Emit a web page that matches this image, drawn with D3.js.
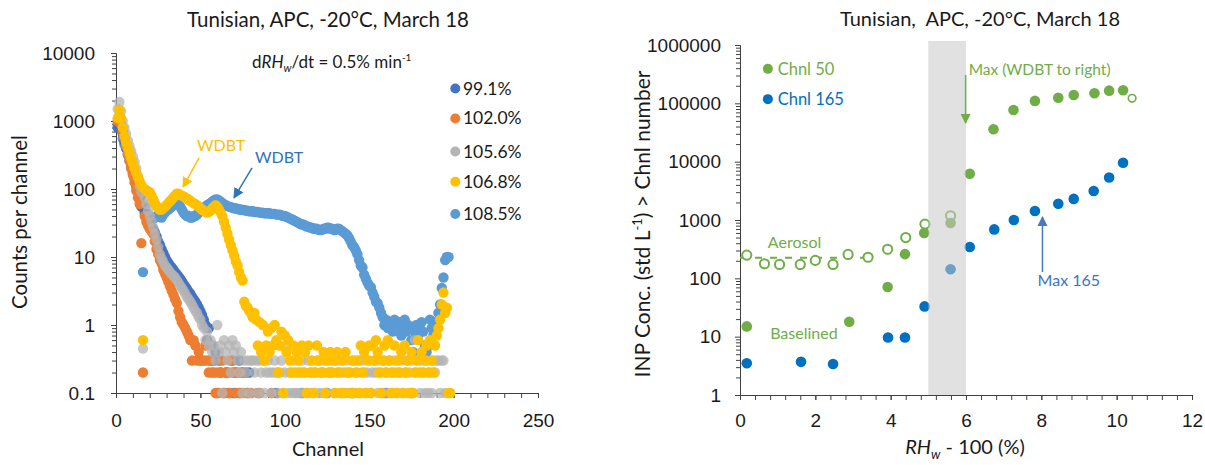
<!DOCTYPE html>
<html>
<head>
<meta charset="utf-8">
<script src="https://cdn.jsdelivr.net/npm/d3@7"></script>
<style>
  body { margin: 0; background: #fff; }
  svg { font-family: Lato, "Open Sans", sans-serif; }
</style>
</head>
<body>
<svg id="chart" width="1205" height="465"></svg>
<script>
// ---------- left panel: counts per channel (index 0 = channel 1) ----------
const s991 = [
  800, 1000, 850, 650, 500, 400, 320, 260, 210, 170,
  140, 110, 90, 70, 55, null, 45, 40, 36, 32,
  29, 26, 23, 20, 17, 15, 13, 11.5, 10, 9,
  8.2, 7.5, 7, 6.5, 6, 5.6, 5.2, 4.8, 4.4, 4.0,
  3.7, 3.4, 3.1, 2.9, 2.6, 2.4, 2.2, 2.0, 1.8, 1.6,
  1.4, 1.2, 1.0, 0.6, 0.9, 0.3, 0.5, 0.3, 0.4, 0.1,
  0.3, 0.2, null, 0.1, 0.2, 0.2, 0.1, null, 0.3, 0.1,
  0.2, null, 0.3, 0.1, 0.2, null, 0.2, 0.1, 0.2, null,
  null, null, null, 0.1, null, null, null, null, null, null,
  null, null, null, null, 0.1, null, null, null, null, null,
  null, null, null, null, null, null, null, null, null, 0.1,
  null, null, null, null, null, null, null, null, null, null,
  null, null, null, null, 0.1, null, null, null, null, null,
  null, null, null, null, null, null, null, null, null, 0.1,
  null, null, null, null, null, null, null, null, null, null,
  null, null, null, null, null, null, null, null, null, 0.1,
  null, null, null, null, null, null, null, null, null, null,
  null, null, null, null, 0.1, null, null, null, null, null,
  null, null, null, null, null, null, null, null, null, null,
  null, null, null, null, null, null, null, null, null, null
];
const s1020 = [
  1000, 1200, 900, 700, 550, 430, 330, 260, 200, 160,
  125, 95, 75, 60, 16, 0.2, 40, 33, 29, 26,
  24, 22, 17, 13, 11, 9, 8, 6.5, 5.7, 5,
  4.3, 3.7, 3.2, 2.8, 2.4, 2.1, 1.6, 1.3, 1.1, 1.0,
  0.9, 0.8, 0.7, 0.6, 0.3, 0.6, 0.5, 0.3, 0.4, 0.3,
  0.3, 0.3, 0.5, 0.3, 0.2, 0.3, 0.2, 0.2, 0.1, 0.2,
  0.1, 0.2, 0.3, 0.1, 0.2, 0.2, 0.1, 0.3, 0.2, 0.2,
  0.1, 0.2, 0.1, 0.2, null, 0.1, null, 0.1, null, 0.1,
  null, null, null, null, 0.1, null, null, null, null, null,
  null, 0.1, null, null, null, null, null, null, null, null,
  null, null, null, null, null, null, null, null, null, null,
  null, null, null, null, null, null, null, null, null, null,
  null, null, null, null, null, null, null, null, null, null,
  null, null, null, null, null, null, null, null, null, null,
  null, null, null, null, null, null, null, null, null, null,
  null, null, null, null, null, null, null, null, null, null,
  null, null, null, null, null, null, null, null, null, null,
  null, null, null, null, null, null, null, null, null, null,
  null, null, null, null, null, null, null, null, null, null,
  null, null, null, null, null, null, null, null, null, null
];
const s1056 = [
  1500, 1900, 1400, 1000, 800, 650, 520, 430, 360, 300,
  250, 200, 150, 110, 90, 0.45, 75, 60, 48, 40,
  33, 27, 22, 18, 14, 11, 9.5, 8.5, 7.5, 7.0,
  6.5, 6.0, 5.6, 5.3, 5.0, 4.6, 4.2, 3.8, 3.5, 3.2,
  2.9, 2.6, 2.4, 2.2, 2.0, 1.8, 1.6, 1.5, 1.3, 1.2,
  1.0, 0.9, 0.6, 0.8, 0.5, 0.6, 0.4, 0.5, 0.3, 1.0,
  0.4, 0.5, 0.1, 0.6, 0.4, 0.3, 0.5, 0.2, 0.6, 0.4,
  0.5, 0.3, 0.2, 0.4, 0.1, 0.3, 0.2, 0.3, 0.1, 0.3,
  0.3, 0.2, 0.3, 0.1, 0.3, 0.2, 0.3, 0.1, 0.2, 0.3,
  0.2, 0.1, 0.2, 0.3, 0.2, 0.1, 0.2, 0.3, 0.1, 0.2,
  0.5, 0.1, 0.2, 0.1, 0.3, 0.1, 0.1, 0.2, 0.1, 0.3,
  0.1, 0.2, 0.1, 0.3, 0.1, 0.2, 0.1, 0.2, 0.3, 0.1,
  0.3, 0.1, 0.2, 0.3, 0.1, 0.2, 0.3, 0.2, 0.1, 0.3,
  0.2, 0.3, 0.2, 0.1, 0.2, 0.1, 0.3, 0.1, 0.2, 0.1,
  0.3, 0.1, 0.2, 0.3, 0.1, 0.3, 0.2, 0.1, 0.2, 0.3,
  0.1, 0.2, 0.3, 0.2, 0.1, 0.3, 0.2, 0.1, 0.3, 0.2,
  0.1, 0.3, 0.2, 0.1, 0.3, 0.2, 0.1, 0.2, 0.3, 0.1,
  0.2, 0.3, 0.1, 0.2, 0.3, 0.1, 0.6, 0.2, 0.3, 0.1,
  0.3, 0.2, 0.1, 0.3, 0.1, 0.2, 0.1, 0.3, 0.2, 0.3,
  0.3, 0.1, 0.3, 0.3, 0.1, null, null, null, null, null
];
const s1068 = [
  1100, 1450, 1100, 800, 600, 480, 400, 330, 280, 240,
  200, 170, 150, 130, 115, 0.6, 100, 95, 92, 90,
  80, 70, 62, 56, 52, 50, 50, 52, 55, 58,
  62, 66, 70, 75, 80, 85, 85, 82, 80, 78,
  75, 72, 70, 67, 64, 62, 60, 58, 55, 52,
  50, 48, 46, 45, 46, 48, 52, 55, 58, 55,
  50, 45, 40, 33, 27, 22, 18, 15, 12.5, 10.5,
  8.5, 7.5, 6, 5, 4.5, 2.2, 1.9, 1.8, 1.6, 1.5,
  1.3, 1.5, 1.2, 0.5, 1.1, 0.4, 1.0, 0.3, 0.5, 0.8,
  0.4, 0.9, 0.5, 1.0, 0.6, 0.2, 0.5, 0.8, 0.1, 0.7,
  0.4, 0.6, 0.3, 0.2, 0.5, 0.2, 0.4, 0.3, 0.2, 0.5,
  0.2, 0.4, 0.1, 0.5, 0.2, 0.3, 0.1, 0.2, 0.5, 0.3,
  0.2, 0.2, 0.4, 0.1, 0.3, 0.2, 0.4, 0.2, 0.3, 0.1,
  0.4, 0.2, 0.1, 0.3, 0.1, 0.4, 0.2, 0.2, 0.1, 0.3,
  0.1, 0.2, 0.3, 0.1, 0.5, 0.2, 0.4, 0.1, 0.3, 0.5,
  0.1, 0.5, 0.3, 0.6, 0.4, 0.2, 0.1, 0.3, 0.5, 0.2,
  0.6, 0.3, 0.1, 0.2, 0.5, 0.1, 0.3, 0.2, 0.4, 0.1,
  0.5, 0.2, 0.3, 0.1, 0.4, 0.1, 0.2, 0.3, 0.6, 0.2,
  0.4, 0.2, 0.3, 0.5, 0.2, 0.6, 0.3, 0.2, 0.5, 0.7,
  0.9, 1.2, 2.0, 3.0, 1.5, 1.8, 0.1, 0.1, null, null
];
const s1085 = [
  900, 1000, 750, 550, 450, 400, 350, 300, 260, 220,
  180, 150, 120, 100, 80, 6, 55, 45, 42, 40,
  38, 36, 38, 40, 42, 40, 38, 42, 45, 48,
  50, 52, 55, 58, 60, 62, 60, 55, 50, 45,
  42, 40, 40, 38, 38, 40, 40, 42, 45, 48,
  50, 52, 55, 58, 60, 62, 65, 68, 70, 70,
  68, 65, 62, 60, 58, 56, 55, 54, 53, 52,
  52, 51, 50, 50, 49, 49, 48, 48, 47, 47,
  47, 46, 46, 46, 45, 45, 45, 44, 44, 44,
  44, 43, 43, 43, 42, 42, 42, 41, 40, 40,
  39, 38, 37, 36, 35, 34, 33, 32, 31, 30,
  30, 29, 28, 28, 27, 27, 26, 26, 26, 25,
  25, 25, 26, 26, 27, 27, 26, 26, 25, 25,
  26, 26, 25, 24, 23, 22, 21, 19, 17, 15,
  14, 12.6, 11, 9, 7.5, 7, 5.5, 4.8, 4.2, 3.8,
  3.6, 3, 2.6, 2.2, 2.1, 1.8, 1.5, 1.3, 1.0, 1.2,
  0.9, 1.1, 1.0, 0.8, 1.2, 1.0, 0.9, 1.1, 0.7, 1.0,
  1.2, 0.8, 1.0, 0.9, 0.6, 0.4, 0.8, 1.0, 0.7, 0.9,
  1.1, 0.8, 0.5, 0.4, 0.5, 1.2, 0.9, 0.7, 1.1, 1.0,
  1.5, 2.0, 3.5, 5, 9, 10, 10, null, null, null
];
const leftNames = ['99.1%', '102.0%', '105.6%', '106.8%', '108.5%'];

// ---------- right panel: INP conc. vs RHw - 100 ----------
const chnl50X = [0.18, 2.9, 3.92, 4.38, 4.89, 5.59, 6.1, 6.73, 7.26, 7.83, 8.45, 8.86, 9.41, 9.8, 10.17];
const chnl50Y = [15, 18, 71, 260, 600, 890, 6200, 36000, 77000, 110000, 125000, 139000, 149000, 165000, 168000];
const chnl50OpenX = [10.41];
const chnl50OpenY = [122000];
const aerosolX = [0.18, 0.65, 1.05, 1.6, 2.0, 2.47, 2.87, 3.4, 3.92, 4.4, 4.91, 5.59];
const aerosolY = [250, 178, 173, 173, 203, 173, 257, 230, 315, 500, 850, 1180];
const aerosolMean = [[0, 225], [3.4, 225]];
const chnl165X = [0.18, 1.62, 2.47, 3.93, 4.38, 4.9, 5.59, 6.1, 6.75, 7.27, 7.83, 8.45, 8.86, 9.39, 9.8, 10.17];
const chnl165Y = [3.5, 3.7, 3.4, 9.7, 9.7, 33, 143, 345, 690, 1000, 1430, 1900, 2300, 3150, 5350, 9600];
const wdbtBand = [5, 6];

const svg = d3.select('#chart');
const AXIS = '#404040', TEXT = '#1a1a1a';
const DBLUE = '#4472c4', ORANGE = '#ed7d31', GRAY = '#b4b4b4', GOLD = '#ffc000', LBLUE = '#5b9bd5';
const GREEN = '#70ad47', BLUE = '#0070c0';

function logMinor(lo, hi) {
  const v = [];
  for (let e = lo; e < hi; e++) for (let m = 2; m <= 9; m++) v.push(m * Math.pow(10, e));
  return v;
}

function styleAxis(g) {
  g.selectAll('path, line').attr('stroke', AXIS).attr('stroke-width', 1);
  g.selectAll('text').attr('fill', TEXT).attr('font-size', 19);
}

// ================= LEFT =================
const xL = d3.scaleLinear().domain([0, 250]).range([116, 538]);
const yL = d3.scaleLog().domain([0.1, 10000]).range([393, 53]);

svg.append('g').attr('transform', 'translate(0,393)')
  .call(d3.axisBottom(xL).tickValues(d3.range(0, 251, 10)).tickSize(5).tickFormat(''))
  .call(styleAxis);
svg.append('g').attr('transform', 'translate(0,393)')
  .call(d3.axisBottom(xL).tickValues([0, 50, 100, 150, 200, 250]).tickSize(5).tickSizeOuter(0).tickPadding(16))
  .call(styleAxis);
svg.append('g').attr('transform', 'translate(116,0)')
  .call(d3.axisLeft(yL).tickValues(logMinor(-1, 4)).tickSize(4).tickFormat(''))
  .call(styleAxis);
svg.append('g').attr('transform', 'translate(116,0)')
  .call(d3.axisLeft(yL).tickValues([0.1, 1, 10, 100, 1000, 10000]).tickSize(5).tickSizeOuter(0)
    .tickPadding(16).tickFormat(d => String(d)))
  .call(styleAxis);

const leftSeries = [
  { values: s1085, color: LBLUE, op: 1 },
  { values: s991, color: DBLUE, op: 1 },
  { values: s1020, color: ORANGE, op: 1 },
  { values: s1056, color: GRAY, op: 0.75 },
  { values: s1068, color: GOLD, op: 1 }
];
leftSeries.forEach(s => {
  const pts = s.values.map((v, i) => ({ ch: i + 1, v })).filter(d => d.v != null);
  svg.append('g').selectAll('circle').data(pts).enter().append('circle')
    .attr('cx', d => xL(d.ch))
    .attr('cy', d => yL(d.v))
    .attr('r', 5.2)
    .attr('fill', s.color)
    .attr('fill-opacity', s.op);
});

// legend
const legColors = [DBLUE, ORANGE, GRAY, GOLD, LBLUE];
const legY = [3000, 1090, 355, 128, 43];
leftNames.forEach((n, i) => {
  svg.append('circle').attr('cx', xL(201)).attr('cy', yL(legY[i])).attr('r', 5).attr('fill', legColors[i]);
  svg.append('text').attr('x', xL(205.5)).attr('y', yL(legY[i]) + 6)
    .attr('font-size', 17.5).attr('fill', TEXT).text(n);
});

// annotations
const rate = svg.append('text').attr('x', xL(80.6)).attr('y', yL(7400) + 6)
  .attr('font-size', 17).attr('fill', TEXT);
rate.append('tspan').text('d');
rate.append('tspan').attr('font-style', 'italic').text('RH');
rate.append('tspan').attr('font-style', 'italic').attr('font-size', 11).attr('dy', 4).text('w');
rate.append('tspan').attr('dy', -4).text('/dt = 0.5% min');
rate.append('tspan').attr('font-size', 10).attr('dy', -7).text('-1');

function arrow(id, color, x1, y1, x2, y2) {
  svg.append('defs').append('marker').attr('id', id)
    .attr('viewBox', '0 0 10 10').attr('refX', 9).attr('refY', 5)
    .attr('markerWidth', 7).attr('markerHeight', 7).attr('orient', 'auto')
    .append('path').attr('d', 'M0,0L10,5L0,10z').attr('fill', color);
  svg.append('line').attr('x1', x1).attr('y1', y1).attr('x2', x2).attr('y2', y2)
    .attr('stroke', color).attr('stroke-width', 1.5).attr('marker-end', `url(#${id})`);
}

svg.append('text').attr('x', xL(48)).attr('y', yL(444) + 6)
  .attr('font-size', 16).attr('fill', GOLD).text('WDBT');
arrow('aGold', GOLD, xL(49.2), yL(286), xL(39.7), yL(107));
svg.append('text').attr('x', xL(82.3)).attr('y', yL(296) + 6)
  .attr('font-size', 16).attr('fill', '#2e75b6').text('WDBT');
arrow('aBlue', '#2e75b6', xL(80.6), yL(204), xL(69.9), yL(74));

svg.append('text').attr('x', 328).attr('y', 27).attr('text-anchor', 'middle')
  .attr('font-size', 20.5).attr('fill', TEXT).text('Tunisian, APC, -20°C, March 18');
svg.append('text').attr('x', 328).attr('y', 456).attr('text-anchor', 'middle')
  .attr('font-size', 20).attr('fill', TEXT).text('Channel');
svg.append('text').attr('transform', 'translate(27,222) rotate(-90)').attr('text-anchor', 'middle')
  .attr('font-size', 20.5).attr('fill', TEXT).text('Counts per channel');

// ================= RIGHT =================
const xR = d3.scaleLinear().domain([0, 12]).range([740, 1192]);
const yR = d3.scaleLog().domain([1, 1e6]).range([395, 45]);

svg.append('g').attr('transform', 'translate(0,395)')
  .call(d3.axisBottom(xR).tickValues(d3.range(0, 12.01, 0.4)).tickSize(5).tickFormat(''))
  .call(styleAxis);
svg.append('g').attr('transform', 'translate(0,395)')
  .call(d3.axisBottom(xR).tickValues([0, 2, 4, 6, 8, 10, 12]).tickSize(5).tickSizeOuter(0).tickPadding(14))
  .call(styleAxis);
svg.append('g').attr('transform', 'translate(740,0)')
  .call(d3.axisLeft(yR).tickValues(logMinor(0, 6)).tickSize(4).tickFormat(''))
  .call(styleAxis);
svg.append('g').attr('transform', 'translate(740,0)')
  .call(d3.axisLeft(yR).tickValues([1, 10, 100, 1000, 10000, 100000, 1000000]).tickSize(5).tickSizeOuter(0)
    .tickPadding(14).tickFormat(d => String(d)))
  .call(styleAxis);

svg.append('path')
  .attr('d', d3.line().x(d => xR(d[0])).y(d => yR(d[1]))(aerosolMean))
  .attr('fill', 'none').attr('stroke', GREEN).attr('stroke-width', 2).attr('stroke-dasharray', '7,8');

svg.append('g').selectAll('circle').data(aerosolX).enter().append('circle')
  .attr('cx', d => xR(d)).attr('cy', (d, i) => yR(aerosolY[i])).attr('r', 4.6)
  .attr('fill', '#fff').attr('stroke', GREEN).attr('stroke-width', 2);
svg.append('g').selectAll('circle').data(chnl50OpenX).enter().append('circle')
  .attr('cx', d => xR(d)).attr('cy', (d, i) => yR(chnl50OpenY[i])).attr('r', 3.8)
  .attr('fill', '#fff').attr('stroke', GREEN).attr('stroke-width', 1.6);
svg.append('g').selectAll('circle').data(chnl50X).enter().append('circle')
  .attr('cx', d => xR(d)).attr('cy', (d, i) => yR(chnl50Y[i])).attr('r', 5.3).attr('fill', GREEN);
svg.append('g').selectAll('circle').data(chnl165X).enter().append('circle')
  .attr('cx', d => xR(d)).attr('cy', (d, i) => yR(chnl165Y[i])).attr('r', 5.3).attr('fill', BLUE);

svg.append('rect')
  .attr('x', xR(wdbtBand[0])).attr('width', xR(wdbtBand[1]) - xR(wdbtBand[0]))
  .attr('y', yR(1e6) - 4).attr('height', yR(1) - yR(1e6) + 4)
  .attr('fill', '#c8c8c8').attr('fill-opacity', 0.55);

// legend + annotations
svg.append('circle').attr('cx', xR(0.74)).attr('cy', yR(390000)).attr('r', 5).attr('fill', GREEN);
svg.append('text').attr('x', xR(1.0)).attr('y', yR(390000) + 6).attr('font-size', 16.5).attr('fill', GREEN).text('Chnl 50');
svg.append('circle').attr('cx', xR(0.74)).attr('cy', yR(118000)).attr('r', 5).attr('fill', BLUE);
svg.append('text').attr('x', xR(1.0)).attr('y', yR(118000) + 6).attr('font-size', 16.5).attr('fill', BLUE).text('Chnl 165');

svg.append('text').attr('x', xR(6.07)).attr('y', yR(390000) + 6).attr('font-size', 15.5).attr('fill', GREEN).text('Max (WDBT to right)');
arrow('aGreen', GREEN, xR(5.99), yR(306000), xR(5.99), yR(46000));
svg.append('text').attr('x', xR(0.74)).attr('y', yR(420) + 6).attr('font-size', 16).attr('fill', GREEN).text('Aerosol');
svg.append('text').attr('x', xR(0.8)).attr('y', yR(11.5) + 6).attr('font-size', 16).attr('fill', GREEN).text('Baselined');
svg.append('text').attr('x', xR(7.9)).attr('y', yR(93) + 6).attr('font-size', 16).attr('fill', '#3a75c4').text('Max 165');
arrow('aMax', '#4a78c2', xR(8.03), yR(128), xR(8.03), yR(1127));

svg.append('text').attr('x', 980).attr('y', 26).attr('text-anchor', 'middle').attr('xml:space', 'preserve')
  .style('white-space', 'pre').attr('font-size', 20).attr('fill', TEXT).text('Tunisian,  APC, -20°C, March 18');

const xlab = svg.append('text').attr('x', 965).attr('y', 454).attr('text-anchor', 'middle')
  .attr('font-size', 20).attr('fill', TEXT);
xlab.append('tspan').attr('font-style', 'italic').text('RH');
xlab.append('tspan').attr('font-style', 'italic').attr('font-size', 13).attr('dy', 5).text('w');
xlab.append('tspan').attr('dy', -5).text(' - 100 (%)');

const ylab = svg.append('text').attr('transform', 'translate(650,224) rotate(-90)').attr('text-anchor', 'middle')
  .attr('font-size', 21).attr('fill', TEXT);
ylab.append('tspan').text('INP Conc. (std L');
ylab.append('tspan').attr('font-size', 13).attr('dy', -8).text('-1');
ylab.append('tspan').attr('dy', 8).text(') > Chnl number');
</script>
</body>
</html>
